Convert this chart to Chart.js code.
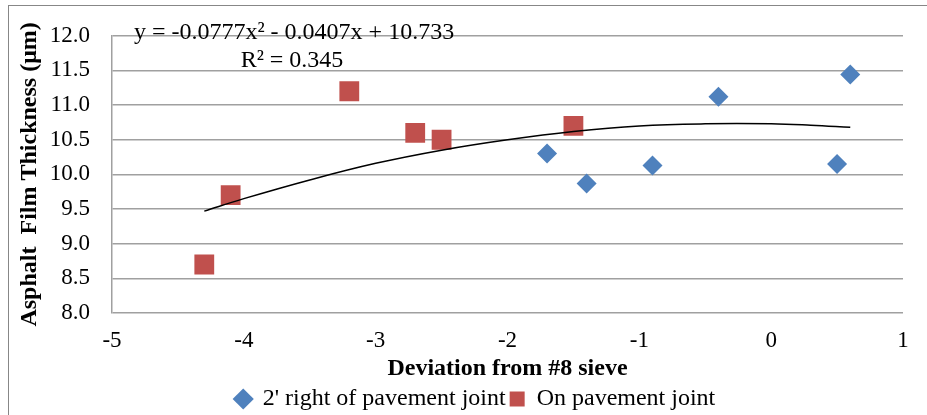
<!DOCTYPE html>
<html>
<head>
<meta charset="utf-8">
<script src="https://cdn.jsdelivr.net/npm/chart.js@4.4.0/dist/chart.umd.min.js"></script>
<style>
  html, body { margin: 0; padding: 0; background: #fff; }
  #wrap { position: relative; width: 927px; height: 415px; overflow: hidden; }
  #frame { position: absolute; left: 8px; top: 5px; width: 940px; height: 430px; border: 1px solid #878787; }
  canvas { position: absolute; left: 0; top: 0; }
</style>
</head>
<body>
<div id="wrap">
  <div id="frame"></div>
  <canvas id="chart" width="927" height="415"></canvas>
</div>
<script>
// 2' right of pavement joint
const rightX = [-1.7, -1.4, -0.9, -0.4, 0.5, 0.6];
const rightY = [10.3, 9.87, 10.13, 11.12, 10.15, 11.44];
// On pavement joint
const onX = [-4.3, -4.1, -3.2, -2.7, -2.5, -1.5];
const onY = [8.7, 9.7, 11.2, 10.6, 10.5, 10.7];
// polynomial trendline
const trendX = [-4.3, -4.0, -3.5, -3.0, -2.5, -2.0, -1.5, -1.0, -0.5, 0.0, 0.3, 0.6];
const trendY = [9.47, 9.65, 9.92, 10.16, 10.35, 10.50, 10.62, 10.70, 10.73, 10.73, 10.71, 10.68];

const seriesNames = ["2' right of pavement joint", 'On pavement joint'];
const eqLines = ['y = -0.0777x\u00B2 - 0.0407x + 10.733', 'R\u00B2 = 0.345'];

const FONT = "'Liberation Serif', 'Times New Roman', serif";
const toPts = (xs, ys) => xs.map((x, i) => ({x: x, y: ys[i]}));

// trendline equation label
const eqPlugin = {
  id: 'eq',
  afterDatasetsDraw(chart) {
    const ctx = chart.ctx;
    ctx.save();
    ctx.font = '24px ' + FONT;
    ctx.fillStyle = '#000';
    ctx.textAlign = 'center';
    ctx.textBaseline = 'middle';
    ctx.fillText(eqLines[0], 294, 33);
    ctx.fillText(eqLines[1], 292, 61);
    ctx.restore();
  }
};

new Chart(document.getElementById('chart'), {
  type: 'scatter',
  data: {
    datasets: [
      {
        label: seriesNames[0],
        data: toPts(rightX, rightY),
        pointStyle: 'rectRot',
        pointRadius: 10,
        pointHoverRadius: 10,
        backgroundColor: '#4f81bd',
        borderColor: '#4f81bd',
        borderWidth: 0,
        order: 1
      },
      {
        label: seriesNames[1],
        data: toPts(onX, onY),
        pointStyle: 'rect',
        pointRadius: 14,
        pointHoverRadius: 14,
        backgroundColor: '#c0504d',
        borderColor: '#c0504d',
        borderWidth: 0,
        order: 1
      },
      {
        label: 'trend',
        data: toPts(trendX, trendY),
        showLine: true,
        pointRadius: 0,
        borderColor: '#000',
        borderWidth: 1.5,
        tension: 0.4,
        fill: false,
        order: 0
      }
    ]
  },
  options: {
    responsive: false,
    animation: false,
    // left padding nudges the legend to where the original has it
    layout: { padding: { left: 48, right: 24, top: 33, bottom: -6 } },
    plugins: {
      tooltip: { enabled: false },
      legend: {
        position: 'bottom',
        labels: {
          filter: (item) => item.datasetIndex !== 2,
          usePointStyle: true,
          boxWidth: 15,
          boxHeight: 15,
          padding: 4,
          color: '#000',
          font: { family: FONT, size: 24 }
        }
      }
    },
    scales: {
      x: {
        type: 'linear',
        min: -5, max: 1,
        grid: { display: false, drawTicks: false },
        border: { display: false },
        ticks: { stepSize: 1, padding: 14, color: '#000', font: { family: FONT, size: 23 } },
        title: { display: true, text: 'Deviation from #8 sieve', color: '#000', padding: { top: 2, bottom: 0 },
                 font: { family: FONT, size: 24, weight: 'bold' } },
        afterFit: (s) => { s.height = 70; }
      },
      y: {
        min: 8, max: 12,
        grid: { color: '#a0a0a0', lineWidth: 1.5, drawTicks: false },
        border: { display: true, color: '#a0a0a0', width: 1.5 },
        ticks: { stepSize: 0.5, padding: 22, color: '#000', font: { family: FONT, size: 23 },
                 callback: (v) => v.toFixed(1) },
        title: { display: true, text: 'Asphalt  Film Thickness (\u03BCm)', color: '#000', padding: { top: -32.4, bottom: 0 },
                 font: { family: FONT, size: 24, weight: 'bold' } },
        afterFit: (s) => { s.width = 64; }
      }
    }
  },
  plugins: [eqPlugin]
});
</script>
</body>
</html>
